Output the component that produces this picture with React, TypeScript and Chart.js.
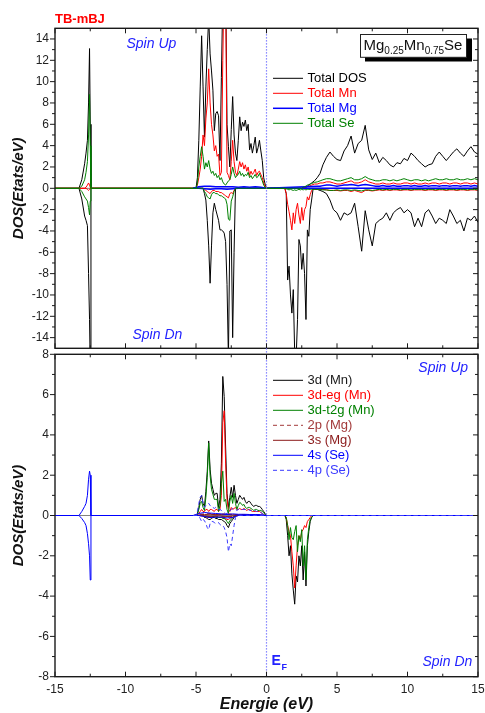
import React, { useEffect, useRef } from 'react';
import { Chart, registerables } from 'chart.js';

Chart.register(...registerables);

const FONT = 'Arial, "Liberation Sans", Helvetica, sans-serif';

// ---------------- axes ----------------
const X_TICKS = [-15, -10, -5, 0, 5, 10, 15];
const X_MINOR = [-12.5, -7.5, -2.5, 2.5, 7.5, 12.5];
const Y_TICKS_TOP = [-14, -12, -10, -8, -6, -4, -2, 0, 2, 4, 6, 8, 10, 12, 14];
const Y_MINOR_TOP = [-13, -11, -9, -7, -5, -3, -1, 1, 3, 5, 7, 9, 11, 13];
const Y_TICKS_BOT = [-8, -6, -4, -2, 0, 2, 4, 6, 8];
const Y_MINOR_BOT = [-7, -5, -3, -1, 1, 3, 5, 7];

// ---------------- energy grids (eV) ----------------
const E_CORE = [-15, -13.3, -13.1, -12.9, -12.8, -12.7, -12.62, -12.55, -12.5, -12.45, -12.4, -12.2, -5.3];
const E_VAL = [
  -5.2, -5.1, -5.0, -4.9, -4.8, -4.7, -4.6, -4.5, -4.4, -4.3,
  -4.2, -4.1, -4.0, -3.9, -3.8, -3.7, -3.6, -3.5, -3.4, -3.3,
  -3.2, -3.1, -3.0, -2.9, -2.8, -2.7, -2.6, -2.5, -2.4, -2.3,
  -2.2, -2.1, -2.0, -1.9, -1.8, -1.7, -1.6, -1.5, -1.4, -1.3,
  -1.2, -1.1, -1.0, -0.9, -0.8, -0.7, -0.6, -0.5, -0.4, -0.3,
  -0.2, -0.1, 0.0, 0.1,
];
const E_VALC = [-5.2, -4.8, -4.4, -4.0, -3.6, -3.2, -2.8, -2.4, -2.0, -1.6, -1.2, -0.8, -0.4, 0.0];
const E_GAP = [
  0.2, 0.6, 1.0, 1.3, 1.4, 1.5, 1.6, 1.7, 1.8, 1.9,
  2.0, 2.1, 2.2, 2.3, 2.4, 2.5, 2.6, 2.7, 2.8, 2.9,
  3.0, 3.1, 3.2, 3.3, 3.4,
];
const E_COND = [
  3.6, 3.8, 4.0, 4.25, 4.5, 4.75, 5.0, 5.25, 5.5, 5.75,
  6.0, 6.25, 6.5, 6.75, 7.0, 7.25, 7.5, 7.75, 8.0, 8.25,
  8.5, 8.75, 9.0, 9.25, 9.5, 9.75, 10.0, 10.25, 10.5, 10.75,
  11.0, 11.25, 11.5, 11.75, 12.0, 12.25, 12.5, 12.75, 13.0, 13.25,
  13.5, 13.75, 14.0, 14.25, 14.5, 14.75, 15.0,
];
const E_END = [15];
const Z_END = [0];

// ---------------- top panel: total DOS ----------------
const TOTAL_UP_CORE = [0, 0, 0.8, 2.3, 3.3, 4.5, 8.0, 13.1, 6.0, 0, 0, 0, 0];
const TOTAL_DN_CORE = [0, 0, -1.0, -2.6, -3.0, -3.5, -8.0, -12.3, -17, 0, 0, 0, 0];
const MN_UP_CORE = [0, 0, 0, 0, 0.1, 0.3, 0.5, 0.3, 0.1, 0, 0, 0, 0];
const MN_DN_CORE = [0, 0, 0, 0, 0, -0.1, -0.2, -0.1, 0, 0, 0, 0, 0];
const SE_UP_CORE = [0, 0, 0.2, 0.8, 1.5, 2.5, 5.0, 8.8, 4.0, 0, 0, 0, 0];
const SE_DN_CORE = [0, 0, -0.3, -0.8, -1.0, -1.2, -1.8, -2.5, -1.2, 0, 0, 0, 0];

const TOTAL_UP_VAL = [
  0, 0, 0, 1.0, 4.5, 9.5, 14.3, 9.5, 4.8, 9.5,
  13.0, 16.0, 12.6, 11.0, 9.2, 5.4, 7.0, 7.2, 6.8, 2.6,
  10.4, 18.0, 22.0, 20.0, 6.0, 3.9, 2.0, 5.5, 8.6, 5.0,
  3.3, 2.6, 4.5, 6.7, 5.4, 6.2, 5.8, 6.4, 5.4, 6.0,
  3.6, 4.2, 3.3, 4.0, 4.8, 3.3, 3.8, 4.5, 3.5, 2.6,
  1.0, 0.4, 0, 0,
];
const MN_UP_VAL = [
  0, 0, 0, 0.3, 1.0, 1.8, 3.0, 5.0, 4.0, 6.5,
  8.0, 11.2, 8.0, 6.0, 5.0, 3.5, 4.0, 3.0, 3.2, 1.2,
  1.5, 12.0, 20.0, 20.0, 1.5, 1.2, 0.8, 2.5, 4.5, 2.5,
  1.5, 1.2, 1.8, 2.5, 2.0, 2.4, 1.8, 2.2, 1.6, 2.0,
  1.2, 1.6, 1.3, 1.5, 1.8, 1.2, 1.5, 1.6, 1.3, 1.0,
  0.5, 0.2, 0, 0,
];
const SE_UP_VAL = [
  0, 0, 0, 0.5, 2.0, 3.0, 3.9, 3.0, 1.8, 2.4,
  2.0, 2.6, 1.8, 1.4, 1.6, 1.2, 1.4, 1.0, 1.2, 0.8,
  1.0, 0.6, 0.4, 0.3, 0.5, 0.7, 0.8, 1.3, 2.0, 1.4,
  1.0, 1.2, 1.3, 1.6, 1.2, 1.4, 1.1, 1.3, 1.2, 1.5,
  1.0, 1.2, 0.9, 1.1, 1.3, 1.0, 1.1, 1.4, 1.0, 0.7,
  0.3, 0.1, 0, 0,
];
const TOTAL_DN_VAL = [
  0, 0, 0, 0, 0, 0, 0, 0, -0.5, -1.1,
  -3.0, -5.4, -8.9, -5.4, -2.3, -1.4, -2.0, -2.5, -3.0, -3.9,
  -3.9, -4.0, -4.2, -5.0, -9.0, -16, -4.0, -3.9, -14, -6.0,
  0, 0, 0, 0, 0, 0, 0, 0, 0, 0,
  0, 0, 0, 0, 0, 0, 0, 0, 0, 0,
  0, 0, 0, 0,
];
const MN_DN_VAL = [
  0, 0, 0, 0, 0, 0, 0, 0, -0.1, -0.2,
  -0.3, -0.4, -0.5, -0.3, -0.2, -0.2, -0.3, -0.3, -0.3, -0.4,
  -0.4, -0.5, -0.6, -0.7, -0.8, -0.9, -0.5, -0.4, -0.5, -0.2,
  0, 0, 0, 0, 0, 0, 0, 0, 0, 0,
  0, 0, 0, 0, 0, 0, 0, 0, 0, 0,
  0, 0, 0, 0,
];
const SE_DN_VAL = [
  0, 0, 0, 0, 0, 0, 0, 0, -0.3, -0.5,
  -0.8, -0.9, -1.0, -0.6, -0.4, -0.4, -0.5, -0.5, -0.6, -0.7,
  -0.7, -0.8, -0.9, -1.0, -1.5, -2.9, -3.0, -1.2, -0.8, -0.3,
  0, 0, 0, 0, 0, 0, 0, 0, 0, 0,
  0, 0, 0, 0, 0, 0, 0, 0, 0, 0,
  0, 0, 0, 0,
];
const MG_UP_VALC = [0, 0.15, 0.2, 0.2, 0.15, 0.15, 0.15, 0.15, 0.1, 0.15, 0.1, 0.15, 0.1, 0];
const MG_DN_VALC = [0, 0, -0.05, -0.1, -0.05, -0.05, -0.1, -0.05, 0, 0, 0, 0, 0, 0];

const TOTAL_UP_GAP = [
  0, 0, 0, 0, 0, 0, 0, 0, 0, 0,
  0, 0, 0, 0, 0, 0, 0.05, 0.1, 0.1, 0.2,
  0.3, 0.4, 0.5, 0.6, 0.7,
];
const MN_UP_GAP = [
  0, 0, 0, 0, 0, 0, 0, 0, 0, 0,
  0, 0, 0, 0, 0, 0, 0.05, 0.1, 0.1, 0.15,
  0.2, 0.25, 0.3, 0.35, 0.4,
];
const SE_UP_GAP = [
  0, 0, 0, 0, 0, 0, 0, 0, 0, 0,
  0, 0, 0, 0, 0, 0, 0.1, 0.15, 0.2, 0.3,
  0.35, 0.4, 0.45, 0.5, 0.55,
];
const TOTAL_DN_GAP = [
  0, 0, 0, 0, -0.5, -8.6, -7.3, -10, -11.7, -9.5,
  -15.5, -16, -12.3, -4.8, -5.4, -7.6, -6.1, -8.0, -12.3, -3.9,
  -4.5, -2.0, -1.1, -0.1, -0.1,
];
const MN_DN_GAP = [
  0, 0, 0, 0, -0.5, -1.5, -2.2, -3.0, -3.9, -2.3,
  -3.3, -2.0, -1.4, -2.5, -3.3, -1.8, -3.0, -2.0, -1.7, -0.8,
  -1.1, -0.6, -0.2, -0.1, -0.1,
];
const SE_DN_GAP = [
  0, 0, 0, 0, -0.05, -0.1, -0.15, -0.1, -0.15, -0.2,
  -0.15, -0.2, -0.15, -0.1, -0.15, -0.1, -0.15, -0.1, -0.15, -0.1,
  -0.1, -0.1, -0.1, -0.1, -0.1,
];

const TOTAL_UP_COND = [
  1.0, 1.4, 2.2, 2.9, 3.4, 3.0, 2.7, 2.6, 3.5, 4.0,
  4.9, 3.3, 4.2, 4.5, 5.9, 3.6, 2.7, 3.3, 2.4, 2.9,
  2.6, 2.2, 2.0, 2.4, 2.3, 2.8, 2.6, 3.3, 3.0, 2.6,
  2.3, 2.0, 2.2, 2.3, 3.0, 3.4, 3.0, 2.6, 3.0, 3.4,
  3.7, 3.3, 3.0, 3.5, 3.9, 3.4, 3.2,
];
const TOTAL_DN_COND = [
  -0.1, -0.2, -0.3, -0.5, -1.1, -2.0, -2.3, -3.0, -2.3, -2.5,
  -2.3, -1.4, -3.6, -5.9, -2.1, -3.9, -5.4, -3.3, -3.0, -2.8,
  -2.3, -3.0, -2.3, -2.0, -1.8, -2.3, -2.0, -2.3, -3.6, -2.8,
  -3.6, -2.3, -2.0, -2.6, -3.3, -2.8, -3.0, -3.3, -2.0, -2.6,
  -3.3, -3.0, -4.0, -2.8, -3.0, -2.6, -3.2,
];
const MN_UP_COND = [
  0.4, 0.5, 0.5, 0.6, 0.6, 0.5, 0.4, 0.4, 0.5, 0.6,
  0.7, 0.5, 0.5, 0.6, 0.8, 0.6, 0.5, 0.4, 0.4, 0.5,
  0.4, 0.4, 0.5, 0.4, 0.4, 0.5, 0.5, 0.4, 0.5, 0.4,
  0.4, 0.5, 0.4, 0.5, 0.5, 0.4, 0.5, 0.5, 0.4, 0.5,
  0.5, 0.4, 0.5, 0.5, 0.4, 0.5, 0.4,
];
const SE_UP_COND = [
  0.6, 0.7, 0.8, 0.9, 0.9, 0.8, 0.7, 0.7, 0.8, 0.9,
  1.0, 0.8, 0.8, 0.9, 1.1, 0.9, 0.8, 0.7, 0.7, 0.8,
  0.8, 0.7, 0.8, 0.7, 0.8, 0.9, 0.8, 0.7, 0.8, 0.8,
  0.7, 0.8, 0.7, 0.8, 0.9, 0.8, 0.8, 0.9, 0.8, 0.8,
  0.9, 0.8, 0.8, 0.9, 0.8, 0.9, 0.8,
];
const MG_UP_COND = [
  0.2, 0.2, 0.25, 0.3, 0.3, 0.25, 0.2, 0.25, 0.3, 0.3,
  0.35, 0.3, 0.25, 0.3, 0.35, 0.3, 0.25, 0.2, 0.2, 0.25,
  0.2, 0.2, 0.25, 0.2, 0.2, 0.25, 0.25, 0.2, 0.25, 0.2,
  0.2, 0.25, 0.2, 0.25, 0.25, 0.2, 0.25, 0.25, 0.2, 0.25,
  0.25, 0.2, 0.25, 0.25, 0.2, 0.25, 0.2,
];
const MN_DN_COND = [
  -0.05, -0.1, -0.1, -0.15, -0.2, -0.2, -0.2, -0.25, -0.2, -0.2,
  -0.3, -0.2, -0.3, -0.4, -0.2, -0.2, -0.25, -0.2, -0.15, -0.2,
  -0.15, -0.2, -0.15, -0.15, -0.2, -0.15, -0.15, -0.2, -0.15, -0.15,
  -0.15, -0.2, -0.15, -0.15, -0.2, -0.15, -0.15, -0.2, -0.15, -0.15,
  -0.2, -0.15, -0.15, -0.2, -0.15, -0.15, -0.2,
];
const SE_DN_COND = [
  -0.1, -0.1, -0.15, -0.15, -0.2, -0.2, -0.15, -0.2, -0.15, -0.15,
  -0.2, -0.15, -0.2, -0.25, -0.15, -0.15, -0.2, -0.15, -0.1, -0.15,
  -0.1, -0.15, -0.1, -0.1, -0.15, -0.1, -0.1, -0.15, -0.1, -0.1,
  -0.1, -0.15, -0.1, -0.1, -0.15, -0.1, -0.1, -0.15, -0.1, -0.1,
  -0.15, -0.1, -0.1, -0.15, -0.1, -0.1, -0.15,
];

// ---------------- bottom panel: partial DOS ----------------
const D3_UP_VAL = [
  0, 0, 0, 0.1, 0.4, 0.8, 1.0, 0.6, 0.45, 1.2,
  2.2, 3.7, 2.3, 1.6, 1.3, 1.0, 1.1, 1.1, 0.4, 0.8,
  2.6, 6.9, 5.9, 3.4, 1.1, 0.4, 0.9, 1.4, 0.9, 1.5,
  1.0, 0.6, 0.8, 1.0, 0.9, 0.8, 0.9, 0.7, 0.6, 0.7,
  0.7, 0.6, 0.5, 0.45, 0.5, 0.5, 0.45, 0.45, 0.4, 0.3,
  0.2, 0.1, 0, 0,
];
const EG_UP_VAL = [
  0, 0, 0, 0.05, 0.1, 0.2, 0.3, 0.2, 0.2, 0.3,
  0.3, 0.2, 0.3, 0.3, 0.25, 0.2, 0.3, 0.3, 0.2, 0.3,
  1.0, 4.6, 5.2, 2.6, 0.8, 0.3, 0.2, 0.4, 0.3, 0.35,
  0.4, 0.3, 0.3, 0.35, 0.3, 0.3, 0.35, 0.3, 0.25, 0.3,
  0.3, 0.25, 0.2, 0.2, 0.2, 0.2, 0.2, 0.2, 0.15, 0.1,
  0.05, 0, 0, 0,
];
const T2G_UP_VAL = [
  0, 0, 0, 0.05, 0.3, 0.6, 0.7, 0.4, 0.25, 0.9,
  1.9, 3.6, 2.0, 1.3, 1.05, 0.8, 0.8, 0.8, 0.2, 0.5,
  1.6, 2.2, 0.7, 0.8, 0.3, 0.1, 0.7, 1.0, 0.6, 1.1,
  0.6, 0.3, 0.5, 0.65, 0.6, 0.5, 0.55, 0.4, 0.35, 0.4,
  0.4, 0.35, 0.3, 0.25, 0.3, 0.3, 0.25, 0.25, 0.25, 0.2,
  0.15, 0.05, 0, 0,
];
const P4_UP_VAL = [
  0, 0, 0, 0.2, 0.6, 0.9, 1.0, 0.6, 0.4, 0.5,
  0.5, 0.6, 0.5, 0.4, 0.4, 0.35, 0.4, 0.35, 0.3, 0.3,
  0.25, 0.2, 0.15, 0.1, 0.1, 0.15, 0.2, 0.3, 0.35, 0.3,
  0.3, 0.25, 0.3, 0.35, 0.3, 0.3, 0.3, 0.3, 0.25, 0.3,
  0.25, 0.25, 0.2, 0.2, 0.25, 0.2, 0.2, 0.2, 0.15, 0.1,
  0.05, 0, 0, 0,
];
const D3_DN_VAL = [
  0, 0, 0, 0, 0, 0, 0, 0, -0.1, -0.1,
  -0.15, -0.2, -0.2, -0.15, -0.1, -0.1, -0.15, -0.15, -0.2, -0.2,
  -0.2, -0.25, -0.3, -0.35, -0.5, -0.6, -0.4, -0.3, -0.2, -0.1,
  0, 0, 0, 0, 0, 0, 0, 0, 0, 0,
  0, 0, 0, 0, 0, 0, 0, 0, 0, 0,
  0, 0, 0, 0,
];
const EG_DN_VAL = [
  0, 0, 0, 0, 0, 0, 0, 0, -0.05, -0.05,
  -0.1, -0.1, -0.1, -0.05, -0.05, -0.05, -0.05, -0.05, -0.1, -0.1,
  -0.1, -0.1, -0.15, -0.15, -0.2, -0.2, -0.15, -0.1, -0.1, -0.05,
  0, 0, 0, 0, 0, 0, 0, 0, 0, 0,
  0, 0, 0, 0, 0, 0, 0, 0, 0, 0,
  0, 0, 0, 0,
];
const T2G_DN_VAL = [
  0, 0, 0, 0, 0, 0, 0, 0, -0.05, -0.05,
  -0.05, -0.1, -0.1, -0.1, -0.05, -0.05, -0.1, -0.1, -0.1, -0.1,
  -0.1, -0.15, -0.15, -0.2, -0.3, -0.4, -0.25, -0.2, -0.1, -0.05,
  0, 0, 0, 0, 0, 0, 0, 0, 0, 0,
  0, 0, 0, 0, 0, 0, 0, 0, 0, 0,
  0, 0, 0, 0,
];
const P4_DN_VAL = [
  0, 0, 0, 0, -0.05, -0.15, -0.3, -0.2, -0.25, -0.4,
  -0.6, -0.7, -0.4, -0.3, -0.3, -0.35, -0.4, -0.4, -0.35, -0.45,
  -0.5, -0.5, -0.6, -0.8, -1.1, -1.8, -1.4, -1.5, -1.0, -0.5,
  -0.1, 0, 0, 0, 0, 0, 0, 0, 0, 0,
  0, 0, 0, 0, 0, 0, 0, 0, 0, 0,
  0, 0, 0, 0,
];
const P2_UP_VALC = [0, 0.05, 0.08, 0.1, 0.05, 0.06, 0.1, 0.05, 0.04, 0.05, 0.04, 0.05, 0.03, 0];
const S3_UP_VALC = [0, 0.03, 0.05, 0.06, 0.04, 0.05, 0.06, 0.04, 0.03, 0.03, 0.03, 0.03, 0.02, 0];
const S4_UP_VALC = [0, 0.1, 0.15, 0.12, 0.1, 0.08, 0.05, 0.08, 0.06, 0.06, 0.05, 0.05, 0.04, 0];
const P2_DN_VALC = [0, 0, -0.03, -0.06, -0.04, -0.05, -0.08, -0.05, 0, 0, 0, 0, 0, 0];
const S3_DN_VALC = [0, 0, -0.02, -0.04, -0.03, -0.03, -0.05, -0.03, 0, 0, 0, 0, 0, 0];
const S4_DN_VALC = [0, 0, -0.05, -0.1, -0.08, -0.08, -0.12, -0.1, 0, 0, 0, 0, 0, 0];
const S4_UP_CORE = [0, 0, 0.2, 0.45, 0.6, 1.0, 1.8, 2.2, 2.0, 0, 0, 0, 0];
const S4_DN_CORE = [0, 0, -0.15, -0.35, -0.5, -0.9, -1.4, -2.0, -3.2, 0, 0, 0, 0];

const D3_DN_GAP = [
  0, 0, 0, 0, -0.2, -1.0, -2.0, -1.5, -2.9, -3.7,
  -4.4, -3.0, -3.3, -2.0, -2.5, -1.5, -3.2, -1.8, -3.5, -1.5,
  -0.8, -0.3, -0.1, 0, 0,
];
const EG_DN_GAP = [
  0, 0, 0, 0, -0.1, -0.5, -0.8, -1.0, -1.8, -2.5,
  -3.6, -2.5, -1.5, -1.0, -1.2, -0.8, -0.7, -0.5, -0.6, -0.3,
  -0.2, -0.1, 0, 0, 0,
];
const T2G_DN_GAP = [
  0, 0, 0, 0, -0.1, -0.5, -1.2, -0.6, -1.1, -1.2,
  -0.8, -0.5, -1.8, -1.0, -1.3, -0.7, -2.5, -1.5, -3.2, -1.2,
  -0.6, -0.2, -0.1, 0, 0,
];

// ---------------- helpers ----------------
type Pt = { x: number; y: number };
const seg = (xs: number[], ys: number[]): Pt[] => xs.map((x, i) => ({ x, y: ys[i] }));

type Series = {
  label: string;
  color: string;
  textColor?: string;
  width?: number;
  dash?: number[];
  legend?: boolean;
  order: number;
  data: Pt[];
};

const BLACK = '#000000';
const RED = '#ff0000';
const BLUE = '#0000ff';
const GREEN = '#008000';
const WINE = '#8b1a1a';
const BROWN = '#a33a3a';
const LBLUE = '#3a3aff';

const TOP_SERIES: Series[] = [
  { label: 'Total DOS', color: BLACK, legend: true, order: 8,
    data: [...seg(E_CORE, TOTAL_UP_CORE), ...seg(E_VAL, TOTAL_UP_VAL), ...seg(E_GAP, TOTAL_UP_GAP), ...seg(E_COND, TOTAL_UP_COND)] },
  { label: 'Total Mn', color: RED, legend: true, order: 6,
    data: [...seg(E_CORE, MN_UP_CORE), ...seg(E_VAL, MN_UP_VAL), ...seg(E_GAP, MN_UP_GAP), ...seg(E_COND, MN_UP_COND)] },
  { label: 'Total Mg', color: BLUE, width: 1.5, legend: true, order: 4,
    data: [...seg(E_VALC, MG_UP_VALC), ...seg(E_COND, MG_UP_COND)] },
  { label: 'Total Se', color: GREEN, legend: true, order: 2,
    data: [...seg(E_CORE, SE_UP_CORE), ...seg(E_VAL, SE_UP_VAL), ...seg(E_GAP, SE_UP_GAP), ...seg(E_COND, SE_UP_COND)] },
  { label: 'Total DOS dn', color: BLACK, order: 7,
    data: [...seg(E_CORE, TOTAL_DN_CORE), ...seg(E_VAL, TOTAL_DN_VAL), ...seg(E_GAP, TOTAL_DN_GAP), ...seg(E_COND, TOTAL_DN_COND)] },
  { label: 'Total Mn dn', color: RED, order: 5,
    data: [...seg(E_CORE, MN_DN_CORE), ...seg(E_VAL, MN_DN_VAL), ...seg(E_GAP, MN_DN_GAP), ...seg(E_COND, MN_DN_COND)] },
  { label: 'Total Mg dn', color: BLUE, width: 1.5, order: 3,
    data: [...seg(E_VALC, MG_DN_VALC), ...seg(E_END, Z_END)] },
  { label: 'Total Se dn', color: GREEN, order: 1,
    data: [...seg(E_CORE, SE_DN_CORE), ...seg(E_VAL, SE_DN_VAL), ...seg(E_GAP, SE_DN_GAP), ...seg(E_COND, SE_DN_COND)] },
];

const BOT_SERIES: Series[] = [
  { label: '3d (Mn)', color: BLACK, textColor: '#1a1a1a', legend: true, order: 14,
    data: [...seg(E_VAL, D3_UP_VAL), ...seg(E_END, Z_END)] },
  { label: '3d-eg (Mn)', color: RED, legend: true, order: 12,
    data: [...seg(E_VAL, EG_UP_VAL), ...seg(E_END, Z_END)] },
  { label: '3d-t2g (Mn)', color: GREEN, legend: true, order: 10,
    data: [...seg(E_VAL, T2G_UP_VAL), ...seg(E_END, Z_END)] },
  { label: '2p (Mg)', color: BROWN, dash: [4, 3], legend: true, order: 8,
    data: [...seg(E_VALC, P2_UP_VALC), ...seg(E_END, Z_END)] },
  { label: '3s (Mg)', color: WINE, legend: true, order: 6,
    data: [...seg(E_VALC, S3_UP_VALC), ...seg(E_END, Z_END)] },
  { label: '4s (Se)', color: BLUE, legend: true, order: 4,
    data: [...seg(E_CORE, S4_UP_CORE), ...seg(E_VALC, S4_UP_VALC), ...seg(E_END, Z_END)] },
  { label: '4p (Se)', color: LBLUE, dash: [4, 3], legend: true, order: 2,
    data: [...seg(E_VAL, P4_UP_VAL), ...seg(E_END, Z_END)] },
  { label: '3d (Mn) dn', color: BLACK, order: 13,
    data: [...seg(E_VAL, D3_DN_VAL), ...seg(E_GAP, D3_DN_GAP), ...seg(E_END, Z_END)] },
  { label: '3d-eg (Mn) dn', color: RED, order: 11,
    data: [...seg(E_VAL, EG_DN_VAL), ...seg(E_GAP, EG_DN_GAP), ...seg(E_END, Z_END)] },
  { label: '3d-t2g (Mn) dn', color: GREEN, order: 9,
    data: [...seg(E_VAL, T2G_DN_VAL), ...seg(E_GAP, T2G_DN_GAP), ...seg(E_END, Z_END)] },
  { label: '2p (Mg) dn', color: BROWN, dash: [4, 3], order: 7,
    data: [...seg(E_VALC, P2_DN_VALC), ...seg(E_END, Z_END)] },
  { label: '3s (Mg) dn', color: WINE, order: 5,
    data: [...seg(E_VALC, S3_DN_VALC), ...seg(E_END, Z_END)] },
  { label: '4s (Se) dn', color: BLUE, order: 3,
    data: [...seg(E_CORE, S4_DN_CORE), ...seg(E_VALC, S4_DN_VALC), ...seg(E_END, Z_END)] },
  { label: '4p (Se) dn', color: LBLUE, dash: [4, 3], order: 1,
    data: [...seg(E_VAL, P4_DN_VAL), ...seg(E_END, Z_END)] },
];

// ---------------- panel specs ----------------
type Spec = {
  name: string;
  min: number;
  max: number;
  yTicks: number[];
  yMinor: number[];
  series: Series[];
  padding: { top: number; bottom: number; left: number; right: number };
  showX: boolean;
  efExtend: number;
  legendY: number;
  annotate: (ctx: CanvasRenderingContext2D) => void;
};

const SPIN = '#2222ff';

const TOP_SPEC: Spec = {
  name: 'top',
  min: -15,
  max: 15,
  yTicks: Y_TICKS_TOP,
  yMinor: Y_MINOR_TOP,
  series: TOP_SERIES,
  padding: { top: 28.3, bottom: 364.7, left: 10, right: 7 },
  showX: false,
  efExtend: 0,
  legendY: 78.3,
  annotate: (ctx) => {
    ctx.textBaseline = 'middle';
    ctx.textAlign = 'left';
    ctx.font = `bold 13px ${FONT}`;
    ctx.fillStyle = RED;
    ctx.fillText('TB-mBJ', 55, 19);
    ctx.font = `italic 14px ${FONT}`;
    ctx.fillStyle = SPIN;
    ctx.fillText('Spin Up', 126.5, 44);
    ctx.fillText('Spin Dn', 132.5, 335);
    // formula box with shadow
    ctx.fillStyle = '#000';
    ctx.fillRect(365, 38.5, 107, 23);
    ctx.fillStyle = '#fff';
    ctx.fillRect(360.5, 34, 106, 23.3);
    ctx.strokeStyle = '#222';
    ctx.lineWidth = 1;
    ctx.strokeRect(360.5, 34.5, 106, 22.8);
    ctx.fillStyle = '#111';
    ctx.textBaseline = 'alphabetic';
    let x = 363.5;
    const parts: [string, boolean][] = [['Mg', false], ['0.25', true], ['Mn', false], ['0.75', true], ['Se', false]];
    parts.forEach(([t, sub]) => {
      ctx.font = sub ? `10px ${FONT}` : `15px ${FONT}`;
      ctx.fillText(t, x, sub ? 53.5 : 49.5);
      x += ctx.measureText(t).width;
    });
  },
};

const BOT_SPEC: Spec = {
  name: 'bottom',
  min: -8,
  max: 8,
  yTicks: Y_TICKS_BOT,
  yMinor: Y_MINOR_BOT,
  series: BOT_SERIES,
  padding: { top: 354.3, bottom: 0, left: 10, right: 7 },
  showX: true,
  efExtend: 6,
  legendY: 380.3,
  annotate: (ctx) => {
    ctx.textBaseline = 'middle';
    ctx.textAlign = 'left';
    ctx.font = `italic 14px ${FONT}`;
    ctx.fillStyle = SPIN;
    ctx.fillText('Spin Up', 418.3, 368.3);
    ctx.fillText('Spin Dn', 422.5, 661.7);
    ctx.textBaseline = 'alphabetic';
    ctx.font = `bold 14px ${FONT}`;
    ctx.fillText('E', 271.5, 665);
    ctx.font = `bold 9px ${FONT}`;
    ctx.fillText('F', 281.5, 669.5);
  },
};

function panelPlugin(spec: Spec) {
  return {
    id: 'panel_' + spec.name,
    beforeDatasetsDraw(chart: any) {
      const { ctx, chartArea: a, scales } = chart;
      const y0 = scales.y.getPixelForValue(0);
      ctx.save();
      ctx.strokeStyle = '#808080';
      ctx.lineWidth = 1;
      ctx.beginPath();
      ctx.moveTo(a.left, y0);
      ctx.lineTo(a.right, y0);
      ctx.stroke();
      ctx.restore();
    },
    afterDatasetsDraw(chart: any) {
      const { ctx, chartArea: a, scales } = chart;
      const xs = scales.x;
      const ys = scales.y;
      ctx.save();
      // Fermi level
      const xf = Math.floor(xs.getPixelForValue(0)) + 0.5;
      ctx.strokeStyle = '#6a6aff';
      ctx.lineWidth = 1.2;
      ctx.setLineDash([1.2, 1.8]);
      ctx.beginPath();
      ctx.moveTo(xf, a.top - spec.efExtend);
      ctx.lineTo(xf, a.bottom);
      ctx.stroke();
      ctx.setLineDash([]);
      // frame
      ctx.strokeStyle = '#1a1a1a';
      ctx.lineWidth = 1.4;
      ctx.strokeRect(a.left, a.top, a.right - a.left, a.bottom - a.top);
      // ticks
      ctx.lineWidth = 1;
      const tick = (x1: number, y1: number, x2: number, y2: number) => {
        ctx.beginPath();
        ctx.moveTo(x1, y1);
        ctx.lineTo(x2, y2);
        ctx.stroke();
      };
      spec.yTicks.forEach((v) => {
        const y = ys.getPixelForValue(v);
        tick(a.left - 5, y, a.left, y);
        tick(a.right - 5, y, a.right, y);
      });
      spec.yMinor.forEach((v) => {
        const y = ys.getPixelForValue(v);
        tick(a.left - 3, y, a.left, y);
        tick(a.right - 3, y, a.right, y);
      });
      X_TICKS.forEach((v) => {
        const x = xs.getPixelForValue(v);
        tick(x, a.top, x, a.top + 5);
        tick(x, a.bottom, x, a.bottom - 5);
      });
      X_MINOR.forEach((v) => {
        const x = xs.getPixelForValue(v);
        tick(x, a.top, x, a.top + 3);
        tick(x, a.bottom, x, a.bottom - 3);
      });
      // legend
      const entries = chart.data.datasets.filter((d: any) => d.showLegend);
      ctx.font = `13px ${FONT}`;
      ctx.textBaseline = 'middle';
      ctx.textAlign = 'left';
      entries.forEach((d: any, i: number) => {
        const y = spec.legendY + i * 15;
        ctx.strokeStyle = d.borderColor;
        ctx.lineWidth = d.borderWidth;
        ctx.setLineDash(d.borderDash || []);
        ctx.beginPath();
        ctx.moveTo(a.left + 218, y);
        ctx.lineTo(a.left + 248, y);
        ctx.stroke();
        ctx.setLineDash([]);
        ctx.fillStyle = d.textColor || d.borderColor;
        ctx.fillText(d.label, a.left + 252.5, y);
      });
      spec.annotate(ctx);
      ctx.restore();
    },
  };
}

function makeConfig(spec: Spec): any {
  return {
    type: 'line',
    data: {
      datasets: spec.series.map((s) => ({
        label: s.label,
        data: s.data,
        borderColor: s.color,
        backgroundColor: s.color,
        borderWidth: s.width ?? 1,
        borderDash: s.dash ?? [],
        pointRadius: 0,
        pointHoverRadius: 0,
        fill: false,
        tension: 0,
        order: s.order,
        showLegend: !!s.legend,
        textColor: s.textColor,
      })),
    },
    options: {
      responsive: false,
      maintainAspectRatio: false,
      animation: false,
      devicePixelRatio: 1,
      events: [],
      layout: { padding: spec.padding, autoPadding: false },
      plugins: {
        legend: { display: false },
        tooltip: { enabled: false },
        title: { display: false },
      },
      scales: {
        x: {
          type: 'linear',
          position: 'bottom',
          min: -15,
          max: 15,
          display: spec.showX,
          afterBuildTicks: (s: any) => {
            s.ticks = X_TICKS.map((v) => ({ value: v }));
          },
          afterFit: (s: any) => {
            if (spec.showX) s.height = 36.3;
          },
          grid: { display: false, drawTicks: false },
          border: { display: false },
          ticks: {
            font: { family: FONT, size: 12, lineHeight: 2.1 },
            color: '#222',
            padding: 0,
            autoSkip: false,
            maxRotation: 0,
            minRotation: 0,
          },
          title: {
            display: true,
            text: 'Energie (eV)',
            color: '#111',
            font: { family: FONT, size: 16, weight: 'bold', style: 'italic', lineHeight: 1 },
            padding: { top: 0, bottom: 0 },
          },
        },
        y: {
          type: 'linear',
          position: 'left',
          min: spec.min,
          max: spec.max,
          afterBuildTicks: (s: any) => {
            s.ticks = spec.yTicks.map((v) => ({ value: v }));
          },
          afterFit: (s: any) => {
            s.width = 45;
          },
          grid: { display: false, drawTicks: false },
          border: { display: false },
          ticks: {
            font: { family: FONT, size: 12 },
            color: '#222',
            padding: 6,
            autoSkip: false,
          },
          title: {
            display: true,
            text: 'DOS(Etats/eV)',
            color: '#111',
            font: { family: FONT, size: 15, weight: 'bold', style: 'italic', lineHeight: 1.2 },
            padding: { top: 0, bottom: 0 },
          },
        },
      },
    },
    plugins: [panelPlugin(spec)],
  };
}

export default function App() {
  const topRef = useRef<HTMLCanvasElement>(null);
  const botRef = useRef<HTMLCanvasElement>(null);

  useEffect(() => {
    const c1 = new Chart(topRef.current as HTMLCanvasElement, makeConfig(TOP_SPEC));
    const c2 = new Chart(botRef.current as HTMLCanvasElement, makeConfig(BOT_SPEC));
    return () => {
      c1.destroy();
      c2.destroy();
    };
  }, []);

  return (
    <div
      style={{
        position: 'absolute',
        left: 0,
        top: 0,
        width: 485,
        height: 713,
        background: '#ffffff',
        overflow: 'hidden',
      }}
    >
      <canvas ref={topRef} width={485} height={713} style={{ position: 'absolute', left: 0, top: 0 }} />
      <canvas ref={botRef} width={485} height={713} style={{ position: 'absolute', left: 0, top: 0 }} />
    </div>
  );
}
